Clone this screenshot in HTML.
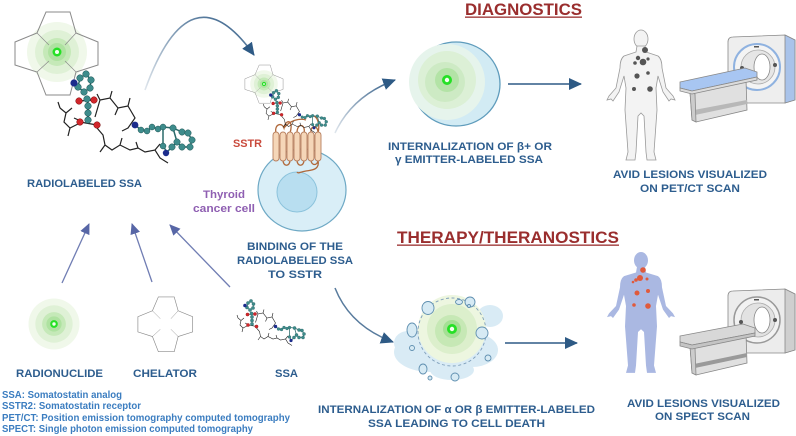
<!DOCTYPE html>
<html><head><meta charset="utf-8"><style>
html,body{margin:0;padding:0;background:#fff;}
svg{display:block;}
text{font-family:"Liberation Sans",sans-serif;font-weight:bold;}
.lb{fill:#2d5d8e;font-size:11px;}
.lg{fill:#3b7dc0;font-size:10px;}
.tt{fill:#9a2e2e;font-size:17px;}
</style></head><body>
<svg width="796" height="436" viewBox="0 0 796 436" xmlns="http://www.w3.org/2000/svg">
<defs>
<marker id="ah" markerUnits="userSpaceOnUse" markerWidth="14" markerHeight="12" refX="12" refY="6" orient="auto">
<path d="M0,0 L13,6 L0,12 Z" fill="#2e5a85"/></marker>
<marker id="ah2" markerUnits="userSpaceOnUse" markerWidth="12" markerHeight="10" refX="10" refY="5" orient="auto">
<path d="M0,0 L11,5 L0,10 Z" fill="#5766a6"/></marker>
<linearGradient id="g1" x1="0" y1="1" x2="1" y2="0"><stop offset="0" stop-color="#2e5a85" stop-opacity="0.15"/><stop offset="1" stop-color="#2e5a85"/></linearGradient>
<radialGradient id="glow"><stop offset="0" stop-color="#8fdc80"/><stop offset="0.35" stop-color="#bfe8b0"/><stop offset="0.7" stop-color="#e2f3d9"/><stop offset="1" stop-color="#f3faef"/></radialGradient>
<g id="glowg">
<circle r="30" fill="#f0f8ea"/><circle r="22" fill="#dff1d6"/><circle r="14" fill="#c5e9b8"/><circle r="9" fill="#aee2a0"/>
<circle r="4.5" fill="#25e025"/><circle r="2" fill="#f4fff0"/>
</g>
<g id="chel" fill="none" stroke="#8a8a8a" stroke-width="1">
<path d="M46,12 L70,12 L76,33 L98,42 L98,65 L76,72 L70,95 L46,95 L37,72 L15,65 L15,42 L37,33 Z"/>
<path d="M37,33 L49,45 M76,33 L65,45 M37,72 L49,61 M76,72 L65,61" stroke-width="0.7"/>
</g>
<g id="mol">
<g fill="none" stroke="#222" stroke-width="1.2">
<path d="M60,108 L66,113 L72,108 M66,113 L64,122 L70,128 L78,124 M70,128 L68,136 M74,118 L83,122 M60,108 L58,102"/>
<path d="M88,96 L88,120 M79,101 L94,100 M80,122 L97,125"/>
<path d="M95,117 L100,100 L110,98 L118,108 L128,106 L135,118 L128,128 L122,131 M100,100 L97,94 M118,108 L115,115 M110,98 L112,91 M128,106 L130,98"/>
<path d="M97,128 L103,135 L105,145 L112,150 L120,145 L130,150 L138,148 L145,152 L155,150 L160,158 L168,163 M105,145 L100,152 M120,145 L122,138 M138,148 L136,142 M155,150 L160,144"/>
<path d="M80,78 L86,74 L91,80 L90,88 L84,92 L78,87 Z M74,83 L78,87" stroke="#2a6a6a" stroke-width="1.5"/>
<path d="M135,125 L141,130 L147,131 L152,127 L158,129 L163,127 L173,128 L182,132 L188,133 L192,140 L190,147 L182,147 L177,142 L173,128 M177,142 L172,147 L167,152 L163,146 L163,127" stroke="#2a6a6a" stroke-width="1.5"/>
</g>
<g fill="#3e8c8c" stroke="#1d5252" stroke-width="0.5">
<circle cx="80" cy="78" r="3.3"/><circle cx="86" cy="74" r="3.3"/><circle cx="91" cy="80" r="3.3"/><circle cx="90" cy="88" r="3.3"/><circle cx="84" cy="92" r="3.3"/><circle cx="78" cy="87" r="3.3"/>
<circle cx="87" cy="99" r="3.3"/><circle cx="88" cy="106" r="3.3"/><circle cx="88" cy="113" r="3.3"/><circle cx="88" cy="120" r="3.3"/>
<circle cx="141" cy="130" r="3"/><circle cx="147" cy="131" r="3"/><circle cx="152" cy="127" r="3"/><circle cx="158" cy="129" r="3"/><circle cx="163" cy="127" r="3"/>
<circle cx="173" cy="128" r="3.2"/><circle cx="182" cy="132" r="3.2"/><circle cx="188" cy="133" r="3.2"/><circle cx="192" cy="140" r="3.2"/><circle cx="190" cy="147" r="3.2"/><circle cx="182" cy="147" r="3.2"/><circle cx="177" cy="142" r="3.2"/><circle cx="172" cy="147" r="3.2"/><circle cx="163" cy="146" r="3"/>
</g>
<g fill="#d0262b" stroke="#7a1010" stroke-width="0.5">
<circle cx="79" cy="101" r="3.3"/><circle cx="94" cy="100" r="3.3"/><circle cx="80" cy="122" r="3.3"/><circle cx="97" cy="125" r="3.3"/>
</g>
<g fill="#1c2c8c"><circle cx="74" cy="83" r="3.6"/><circle cx="135" cy="125" r="3.4"/><circle cx="166" cy="153" r="3.2"/></g>
</g>
</defs>

<!-- Top-left radiolabeled SSA -->
<use href="#glowg" x="57" y="52"/>
<use href="#chel"/>
<use href="#mol"/>
<text class="lb" x="84.5" y="187" text-anchor="middle" textLength="115" lengthAdjust="spacingAndGlyphs">RADIOLABELED SSA</text>

<!-- curved arrow top -->
<path d="M145,90 Q190,-35 254,55" fill="none" stroke="url(#g1)" stroke-width="1.6" marker-end="url(#ah)"/>

<!-- Binding: cell -->
<ellipse cx="302" cy="190" rx="44" ry="41" fill="#d9eef7" stroke="#6ea9c5" stroke-width="1.2"/>
<circle cx="297" cy="192" r="20" fill="#b8def0" stroke="#8cc3dc" stroke-width="1"/>
<!-- receptor loops -->
<g fill="none" stroke="#b0683a" stroke-width="1.3">
<path d="M276,133 C274,124 282,122 284,128 C286,118 294,120 290,133"/>
<path d="M297,133 C297,122 306,124 304,133 M311,133 C310,125 318,124 318,133"/>
<path d="M283,160 C283,167 290,167 290,160 M297,160 C297,167 304,167 304,160 M311,160 C311,166 318,166 318,160"/>
<path d="M318,160 C320,170 312,170 306,171 C300,172 298,174 297,172"/>
<path d="M284,128 C290,120 300,118 306,120 M318,133 C320,125 318,118 314,116"/>
</g>
<g fill="#f5d6b8" stroke="#b88060" stroke-width="0.9">
<rect x="273" y="132" width="6" height="29" rx="3"/><rect x="280" y="132" width="6" height="29" rx="3"/><rect x="287" y="132" width="6" height="29" rx="3"/><rect x="294" y="132" width="6" height="29" rx="3"/><rect x="301" y="132" width="6" height="29" rx="3"/><rect x="308" y="132" width="6" height="29" rx="3"/><rect x="315" y="132" width="6" height="29" rx="3"/>
</g>
<g transform="translate(264,84) scale(0.46)"><use href="#glowg"/></g>
<g transform="translate(238,59.5) scale(0.46)"><use href="#chel"/></g>
<g transform="translate(236,56) scale(0.47)"><use href="#mol"/></g>
<text x="247.5" y="147" text-anchor="middle" textLength="29" lengthAdjust="spacingAndGlyphs" style="fill:#c94a3c;font-size:11px">SSTR</text>
<text x="224" y="198" text-anchor="middle" textLength="42" lengthAdjust="spacingAndGlyphs" style="fill:#8f5fb2;font-size:11px">Thyroid</text>
<text x="224" y="212" text-anchor="middle" textLength="62" lengthAdjust="spacingAndGlyphs" style="fill:#8f5fb2;font-size:11px">cancer cell</text>
<text class="lb" x="295" y="250" text-anchor="middle" textLength="96" lengthAdjust="spacingAndGlyphs">BINDING OF THE</text>
<text class="lb" x="295" y="264" text-anchor="middle" textLength="116" lengthAdjust="spacingAndGlyphs">RADIOLABELED SSA</text>
<text class="lb" x="295" y="278" text-anchor="middle" textLength="54" lengthAdjust="spacingAndGlyphs">TO  SSTR</text>

<!-- Arrows from binding -->
<path d="M335,133 Q352,96 395,80" fill="none" stroke="url(#g1)" stroke-width="1.5" marker-end="url(#ah)"/>
<path d="M335,288 Q350,326 393,342" fill="none" stroke="#2e5a85" stroke-opacity="0.8" stroke-width="1.5" marker-end="url(#ah)"/>

<!-- Diagnostics -->
<text class="tt" x="523.5" y="15" text-anchor="middle" textLength="117" lengthAdjust="spacingAndGlyphs">DIAGNOSTICS</text>
<rect x="465" y="16.5" width="117" height="1.3" fill="#9a2e2e"/>
<ellipse cx="456" cy="84" rx="44" ry="42" fill="#d2ebf4" stroke="#5f9cbc" stroke-width="1.3"/>
<circle cx="447" cy="82" r="38" fill="#e6f4ec"/>
<circle cx="447" cy="80" r="29" fill="#dcf0d6"/>
<circle cx="445" cy="82" r="20" fill="#cdeac4"/>
<circle cx="447" cy="80" r="12" fill="#b3e3a6"/>
<circle cx="447" cy="80" r="5" fill="#25e025"/><circle cx="447" cy="80" r="2.2" fill="#f4fff0"/>
<text class="lb" x="470" y="150" text-anchor="middle" textLength="164" lengthAdjust="spacingAndGlyphs">INTERNALIZATION OF β+ OR</text>
<text class="lb" x="469" y="163" text-anchor="middle" textLength="148" lengthAdjust="spacingAndGlyphs">γ  EMITTER-LABELED SSA</text>
<path d="M508,84 L581,84" stroke="#2e5a85" stroke-width="1.5" marker-end="url(#ah)"/>

<!-- PET body -->
<g transform="translate(641,30)">
<ellipse cx="0" cy="9" rx="7" ry="9" fill="#f3f3f3" stroke="#9a9a9a" stroke-width="0.8"/>
<path d="M-4,16 L-5,22 L-17,26 Q-21,29 -21,38 L-25,58 L-32,66 L-34,70 L-30,69 L-28,71 L-22,62 L-17,46 L-15,58 L-16,80 L-13,122 L-15,130 L-6,130 L-5,122 L-3,86 L0,83 L3,86 L5,122 L6,130 L15,130 L13,122 L16,80 L15,58 L17,46 L22,62 L28,71 L30,69 L34,70 L32,66 L25,58 L21,38 Q21,29 17,26 L5,22 L4,16 Z" fill="#f3f3f3" stroke="#9a9a9a" stroke-width="0.8"/>
</g>
<g fill="#555">
<circle cx="645" cy="50" r="3"/><circle cx="638" cy="58" r="2.2"/><circle cx="643" cy="62" r="3.3"/><circle cx="635" cy="63" r="1.8"/><circle cx="648" cy="59" r="1.6"/><circle cx="637" cy="76" r="2.6"/><circle cx="648" cy="73" r="1.8"/><circle cx="634" cy="89" r="2"/><circle cx="650" cy="89" r="2.8"/>
</g>
<!-- PET scanner -->
<g stroke="#888" stroke-width="0.8">
<path d="M728,42 Q728,37 733,37 L785,35 L795,40 L795,100 L785,103 L735,103 Q728,103 728,98 Z" fill="#eeeeee"/>
<path d="M785,35 L795,40 L795,100 L785,103 Z" fill="#a9c3ea"/>
<circle cx="757" cy="67" r="23" fill="#f4f4f4" stroke="#8fb2e0" stroke-width="2"/>
<circle cx="758" cy="67" r="17" fill="#e6e6e6" stroke="#aaa"/>
<ellipse cx="762" cy="67" rx="8" ry="13" fill="#fff"/>
<circle cx="742" cy="68" r="2" fill="#555" stroke="none"/><circle cx="775" cy="65" r="2" fill="#555" stroke="none"/>
<rect x="754" y="46" width="5" height="1.5" fill="#555" stroke="none"/>
<path d="M690,92 L746,80 L747,110 L696,122 L692,120 Z" fill="#e0e0e0"/>
<path d="M694,110 L747,100 L747,104 L695,115 Z" fill="#b8b8b8" stroke="none"/>
<path d="M690,92 L695,94 L696,122 L692,120 Z" fill="#cccccc"/>
<path d="M680,82 L745,68 L757,72 L757,77 L692,91 L680,88 Z" fill="#a8c6f2"/>
<path d="M680,88 L692,91 L757,77 L757,80 L692,94 L680,91 Z" fill="#dcdcdc"/>
</g>
<text class="lb" x="690" y="178" text-anchor="middle" textLength="154" lengthAdjust="spacingAndGlyphs">AVID LESIONS VISUALIZED</text>
<text class="lb" x="690" y="192" text-anchor="middle" textLength="100" lengthAdjust="spacingAndGlyphs">ON PET/CT SCAN</text>

<!-- Therapy -->
<text class="tt" x="508" y="243" text-anchor="middle" textLength="222" lengthAdjust="spacingAndGlyphs">THERAPY/THERANOSTICS</text>
<rect x="397" y="244.5" width="222" height="1.3" fill="#9a2e2e"/>
<g fill="#d9ebf5">
<ellipse cx="430" cy="352" rx="36" ry="20"/><ellipse cx="472" cy="350" rx="26" ry="17"/><ellipse cx="490" cy="316" rx="13" ry="11"/><ellipse cx="408" cy="343" rx="14" ry="12"/><ellipse cx="452" cy="370" rx="22" ry="10"/>
</g>
<circle cx="452" cy="329" r="34" fill="#edf6e0"/>
<circle cx="452" cy="329" r="25" fill="#dcefcc"/>
<circle cx="451" cy="331" r="16" fill="#c6e8b5"/>
<circle cx="452" cy="329" r="9" fill="#a4e094"/>
<circle cx="452" cy="329" r="5" fill="#25e025"/><circle cx="452" cy="329" r="2.2" fill="#f4fff0"/>
<circle cx="452" cy="332" r="34" fill="none" stroke="#7f9fbb" stroke-width="0.9" stroke-dasharray="3,2.5"/>
<g fill="#d6eaf4" stroke="#5f8fb0" stroke-width="0.9">
<ellipse cx="428" cy="308" rx="6" ry="6.5"/><ellipse cx="470" cy="302" rx="5" ry="5"/><ellipse cx="459" cy="302" rx="3.5" ry="2.5"/><ellipse cx="412" cy="330" rx="5" ry="7"/><ellipse cx="482" cy="333" rx="6" ry="6"/><circle cx="412" cy="348" r="2.5"/><circle cx="488" cy="358" r="3"/><ellipse cx="423" cy="369" rx="4" ry="5"/><circle cx="455" cy="377" r="4"/><circle cx="430" cy="378" r="2"/><circle cx="469" cy="306" r="1.5"/>
</g>
<text class="lb" x="456.5" y="413" text-anchor="middle" textLength="277" lengthAdjust="spacingAndGlyphs">INTERNALIZATION OF α OR β  EMITTER-LABELED</text>
<text class="lb" x="456.5" y="427" text-anchor="middle" textLength="177" lengthAdjust="spacingAndGlyphs">SSA LEADING TO CELL DEATH</text>
<path d="M505,343 L577,343" stroke="#2e5a85" stroke-width="1.5" marker-end="url(#ah)"/>

<!-- SPECT body -->
<g transform="translate(641,252) scale(1,0.93)">
<ellipse cx="0" cy="9" rx="7" ry="9" fill="#aab8e2"/>
<path d="M-4,16 L-5,22 L-17,26 Q-21,29 -21,38 L-25,58 L-32,66 L-34,70 L-30,69 L-28,71 L-22,62 L-17,46 L-15,58 L-16,80 L-13,122 L-15,130 L-6,130 L-5,122 L-3,86 L0,83 L3,86 L5,122 L6,130 L15,130 L13,122 L16,80 L15,58 L17,46 L22,62 L28,71 L30,69 L34,70 L32,66 L25,58 L21,38 Q21,29 17,26 L5,22 L4,16 Z" fill="#aab8e2"/>
</g>
<g fill="#e05a3c">
<circle cx="643" cy="270" r="2.8"/><circle cx="640" cy="278" r="3"/><circle cx="636" cy="280" r="1.8"/><circle cx="647" cy="279" r="1.5"/><circle cx="637" cy="293" r="2.5"/><circle cx="648" cy="291" r="2"/><circle cx="634" cy="305" r="1.8"/><circle cx="648" cy="306" r="2.8"/><circle cx="633" cy="282" r="1.3"/>
</g>
<!-- SPECT scanner -->
<g stroke="#888" stroke-width="0.8">
<path d="M728,296 Q728,291 733,291 L785,289 L795,294 L795,350 L785,353 L735,353 Q728,353 728,348 Z" fill="#ececec"/>
<path d="M785,289 L795,294 L795,350 L785,353 Z" fill="#cfcfcf"/>
<circle cx="757" cy="320" r="23" fill="#f2f2f2" stroke="#999" stroke-width="1.5"/>
<circle cx="758" cy="320" r="17" fill="#e2e2e2" stroke="#aaa"/>
<ellipse cx="762" cy="320" rx="8" ry="13" fill="#fff"/>
<circle cx="741" cy="322" r="2" fill="#555" stroke="none"/><circle cx="775" cy="320" r="2" fill="#555" stroke="none"/>
<rect x="754" y="299" width="5" height="1.5" fill="#555" stroke="none"/>
<path d="M690,346 L746,334 L747,363 L696,375 L692,373 Z" fill="#e0e0e0"/>
<path d="M694,364 L747,353 L747,357 L695,368 Z" fill="#9a9a9a" stroke="none"/>
<path d="M690,346 L695,348 L696,375 L692,373 Z" fill="#cccccc"/>
<path d="M680,336 L743,324 L755,328 L755,333 L692,345 L680,342 Z" fill="#d8d8d8"/>
<path d="M680,342 L692,345 L755,333 L755,336 L692,349 L680,346 Z" fill="#c4c4c4"/>
</g>
<text class="lb" x="703.5" y="407" text-anchor="middle" textLength="153" lengthAdjust="spacingAndGlyphs">AVID LESIONS VISUALIZED</text>
<text class="lb" x="702.5" y="420" text-anchor="middle" textLength="95" lengthAdjust="spacingAndGlyphs">ON SPECT SCAN</text>

<!-- bottom components -->
<path d="M62,283 L89,224" stroke="#5766a6" stroke-width="1.3" stroke-opacity="0.85" marker-end="url(#ah2)"/>
<path d="M152,282 L132,224" stroke="#5766a6" stroke-width="1.3" stroke-opacity="0.85" marker-end="url(#ah2)"/>
<path d="M230,287 L170,225" stroke="#5766a6" stroke-width="1.3" stroke-opacity="0.85" marker-end="url(#ah2)"/>
<g transform="translate(54,324) scale(0.85)"><use href="#glowg"/></g>
<g transform="translate(128,289) scale(0.66)"><use href="#chel"/></g>
<g transform="translate(208,264) scale(0.5)"><use href="#mol"/></g>
<text class="lb" x="59.5" y="377" text-anchor="middle" textLength="87" lengthAdjust="spacingAndGlyphs">RADIONUCLIDE</text>
<text class="lb" x="165" y="377" text-anchor="middle" textLength="64" lengthAdjust="spacingAndGlyphs">CHELATOR</text>
<text class="lb" x="286.5" y="377" text-anchor="middle" textLength="23" lengthAdjust="spacingAndGlyphs">SSA</text>

<!-- legend -->
<text class="lg" x="2" y="398" textLength="120" lengthAdjust="spacingAndGlyphs">SSA: Somatostatin analog</text>
<text class="lg" x="2" y="409" textLength="139" lengthAdjust="spacingAndGlyphs">SSTR2: Somatostatin receptor</text>
<text class="lg" x="2" y="421" textLength="288" lengthAdjust="spacingAndGlyphs">PET/CT: Position emission tomography computed tomography</text>
<text class="lg" x="2" y="432" textLength="251" lengthAdjust="spacingAndGlyphs">SPECT: Single photon emission computed tomography</text>
</svg>
</body></html>
